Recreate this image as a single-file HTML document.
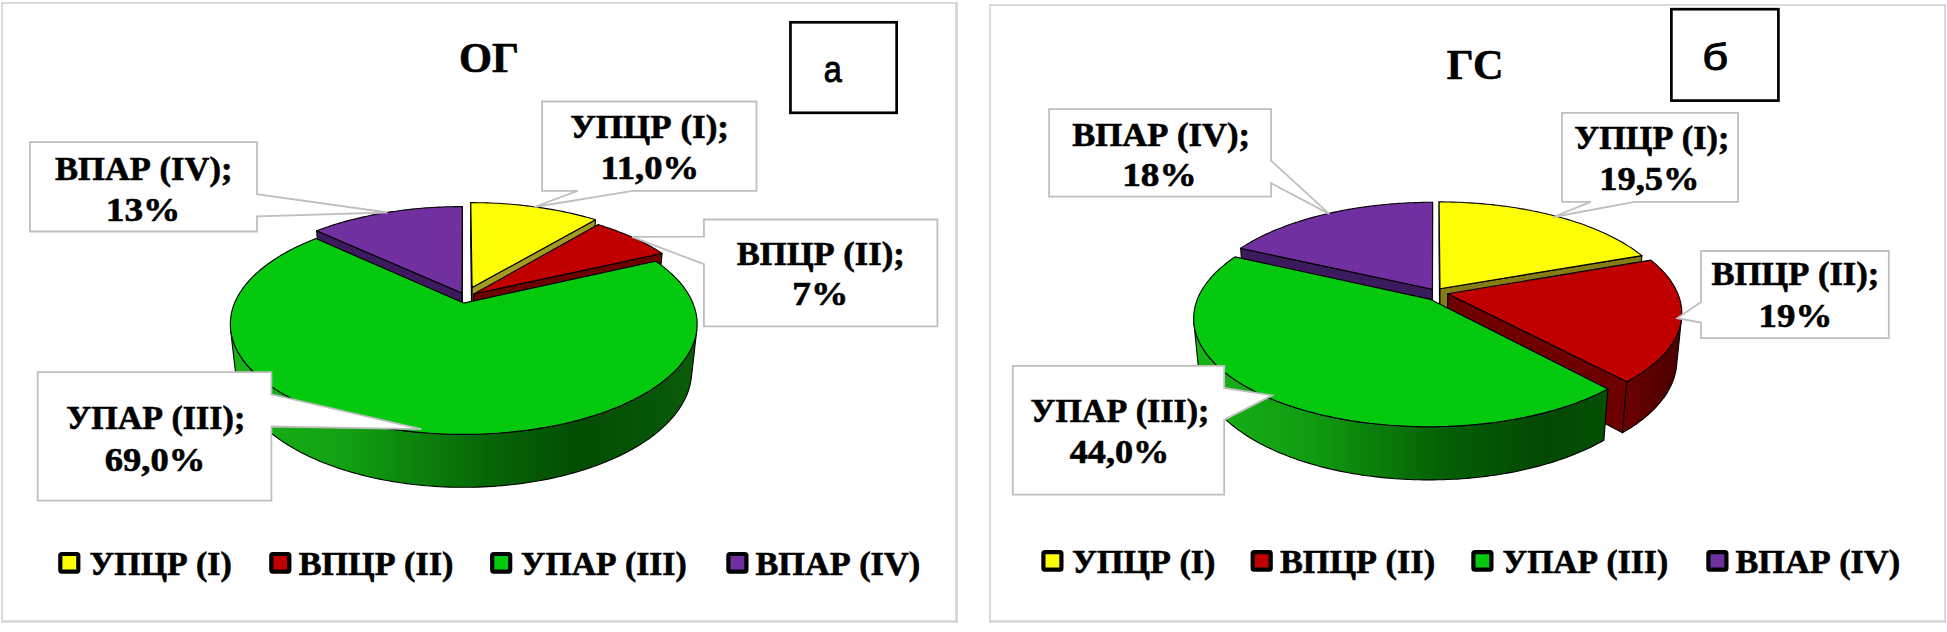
<!DOCTYPE html>
<html lang="ru"><head><meta charset="utf-8"><title>Charts</title>
<style>html,body{margin:0;padding:0;background:#fff;}svg{display:block;}text{fill:#000;}</style></head>
<body>
<svg width="1947" height="632" viewBox="0 0 1947 632">
<defs><linearGradient id="gL" gradientUnits="userSpaceOnUse" x1="230" y1="0" x2="697" y2="0"><stop offset="0" stop-color="#17b417"/><stop offset="0.25" stop-color="#12a012"/><stop offset="0.55" stop-color="#066606"/><stop offset="0.75" stop-color="#034d03"/><stop offset="1" stop-color="#0a5c0a"/></linearGradient><linearGradient id="gR" gradientUnits="userSpaceOnUse" x1="1192" y1="0" x2="1606" y2="0"><stop offset="0" stop-color="#17b417"/><stop offset="0.3" stop-color="#109a10"/><stop offset="0.6" stop-color="#056005"/><stop offset="0.85" stop-color="#034903"/><stop offset="1" stop-color="#045004"/></linearGradient><linearGradient id="rR" gradientUnits="userSpaceOnUse" x1="1625" y1="0" x2="1682" y2="0"><stop offset="0" stop-color="#6a0000"/><stop offset="1" stop-color="#4a0000"/></linearGradient></defs>
<g fill="#d5d5d5"><rect x="1.3" y="2.2" width="956.6" height="1.7"/><rect x="1.3" y="620.2" width="956.6" height="2.5"/><rect x="1.3" y="2.2" width="1.7" height="620.5"/><rect x="955.2" y="2.2" width="2.7" height="620.5"/></g>
<g fill="#d5d5d5"><rect x="989.1" y="4.1" width="956.8" height="1.7"/><rect x="989.1" y="620.3" width="956.8" height="2.4"/><rect x="989.1" y="4.1" width="1.8" height="618.6"/><rect x="1944.1" y="4.1" width="1.8" height="618.6"/></g>
<path d="M462.0,293.1 L316.7,230.8 L319.5,272.4 L462.1,338.6Z" fill="#3b1a5e" stroke="#000" stroke-width="1.1" stroke-linejoin="round"/>
<path d="M462.3,206.6 L462.0,293.1 L462.1,338.6 L462.4,246.6Z" fill="#3b1a5e" stroke="#000" stroke-width="1.1" stroke-linejoin="round"/>
<path d="M462.0,293.1 L316.7,230.8 L319.4,229.8 L322.2,228.7 L325.0,227.7 L327.9,226.8 L330.7,225.8 L333.6,224.9 L336.5,224.0 L339.5,223.1 L342.4,222.3 L345.4,221.4 L348.4,220.6 L351.4,219.8 L354.5,219.1 L357.6,218.3 L360.6,217.6 L363.7,216.9 L366.9,216.2 L370.0,215.6 L373.2,214.9 L376.3,214.3 L379.5,213.7 L382.7,213.2 L385.9,212.6 L389.2,212.1 L392.4,211.6 L395.7,211.2 L398.9,210.7 L402.2,210.3 L405.5,209.9 L408.8,209.5 L412.1,209.1 L415.4,208.8 L418.7,208.5 L422.0,208.2 L425.4,207.9 L428.7,207.7 L432.1,207.5 L435.4,207.3 L438.8,207.1 L442.1,207.0 L445.5,206.8 L448.9,206.7 L452.2,206.7 L455.6,206.6 L459.0,206.6 L462.3,206.6Z" fill="#7030a0" stroke="#000" stroke-width="1.1" stroke-linejoin="round"/>
<path d="M472.1,287.6 L470.8,202.6 L470.7,242.4 L471.9,332.7Z" fill="#a39a22" stroke="#000" stroke-width="1.1" stroke-linejoin="round"/>
<path d="M595.5,219.7 L472.1,287.6 L471.9,332.7 L593.0,260.6Z" fill="#a39a22" stroke="#000" stroke-width="1.1" stroke-linejoin="round"/>
<path d="M472.1,287.6 L470.8,202.6 L474.1,202.6 L477.5,202.7 L480.8,202.7 L484.1,202.8 L487.5,202.9 L490.8,203.0 L494.1,203.2 L497.4,203.3 L500.8,203.5 L504.1,203.7 L507.4,204.0 L510.7,204.2 L514.0,204.5 L517.3,204.8 L520.6,205.1 L523.8,205.5 L527.1,205.9 L530.3,206.3 L533.6,206.7 L536.8,207.1 L540.1,207.6 L543.3,208.1 L546.5,208.6 L549.6,209.1 L552.8,209.6 L556.0,210.2 L559.1,210.8 L562.3,211.4 L565.4,212.1 L568.5,212.7 L571.5,213.4 L574.6,214.1 L577.6,214.9 L580.7,215.6 L583.7,216.4 L586.7,217.2 L589.6,218.0 L592.5,218.8 L595.5,219.7Z" fill="#fdfd05" stroke="#000" stroke-width="1.1" stroke-linejoin="round"/>
<path d="M662.1,253.4 L473.7,294.0 L473.5,339.6 L658.0,296.5Z" fill="#6e0000" stroke="#000" stroke-width="1.1" stroke-linejoin="round"/>
<path d="M473.7,294.0 L598.2,224.6 L601.1,225.5 L604.0,226.4 L606.9,227.4 L609.7,228.3 L612.5,229.3 L615.3,230.3 L618.0,231.4 L620.8,232.4 L623.5,233.5 L626.1,234.6 L628.8,235.7 L631.4,236.8 L633.9,238.0 L636.5,239.1 L639.0,240.3 L641.5,241.5 L643.9,242.8 L646.3,244.0 L648.7,245.3 L651.0,246.6 L653.3,247.9 L655.6,249.3 L657.8,250.6 L659.9,252.0 L662.1,253.4Z" fill="#c00000" stroke="#000" stroke-width="1.1" stroke-linejoin="round"/>
<path d="M696.8,329.8 L696.5,331.8 L696.2,333.8 L695.8,335.8 L695.3,337.8 L694.7,339.8 L694.0,341.8 L693.3,343.8 L692.5,345.8 L691.6,347.8 L690.6,349.8 L689.6,351.8 L688.4,353.8 L687.2,355.8 L685.9,357.7 L684.5,359.7 L683.1,361.7 L681.5,363.6 L679.9,365.6 L678.2,367.5 L676.4,369.5 L674.5,371.4 L672.5,373.3 L670.4,375.2 L668.3,377.1 L666.1,379.0 L663.8,380.8 L661.4,382.7 L658.9,384.5 L656.4,386.3 L653.7,388.1 L651.0,389.9 L648.2,391.6 L645.3,393.3 L642.4,395.0 L639.3,396.7 L636.2,398.3 L633.0,400.0 L629.7,401.6 L626.4,403.1 L623.0,404.7 L619.5,406.2 L615.9,407.7 L612.3,409.1 L608.6,410.5 L604.8,411.9 L601.0,413.3 L597.0,414.6 L593.1,415.9 L589.0,417.1 L584.9,418.3 L580.8,419.5 L576.6,420.6 L572.3,421.7 L568.0,422.7 L563.6,423.7 L559.2,424.7 L554.7,425.6 L550.2,426.5 L545.7,427.3 L541.1,428.1 L536.4,428.9 L531.7,429.6 L527.0,430.2 L522.3,430.8 L517.5,431.4 L512.7,431.9 L507.9,432.4 L503.0,432.8 L498.2,433.2 L493.3,433.5 L488.4,433.8 L483.5,434.0 L478.5,434.2 L473.6,434.3 L468.7,434.4 L463.7,434.4 L458.8,434.4 L453.9,434.3 L448.9,434.2 L444.0,434.0 L439.1,433.8 L434.2,433.5 L429.3,433.2 L424.4,432.8 L419.6,432.4 L414.7,431.9 L409.9,431.4 L405.2,430.9 L400.4,430.3 L395.7,429.6 L391.0,428.9 L386.4,428.2 L381.8,427.4 L377.2,426.5 L372.7,425.7 L368.3,424.7 L363.8,423.8 L359.5,422.8 L355.1,421.7 L350.9,420.6 L346.7,419.5 L342.5,418.3 L338.4,417.1 L334.4,415.9 L330.4,414.6 L326.5,413.3 L322.7,412.0 L318.9,410.6 L315.2,409.2 L311.5,407.7 L308.0,406.2 L304.5,404.7 L301.1,403.2 L297.7,401.6 L294.4,400.0 L291.2,398.4 L288.1,396.7 L285.1,395.1 L282.1,393.4 L279.2,391.6 L276.4,389.9 L273.7,388.1 L271.1,386.4 L268.5,384.5 L266.1,382.7 L263.7,380.9 L261.4,379.0 L259.1,377.2 L257.0,375.3 L254.9,373.4 L253.0,371.5 L251.1,369.5 L249.3,367.6 L247.6,365.7 L245.9,363.7 L244.4,361.7 L242.9,359.8 L241.5,357.8 L240.2,355.8 L239.0,353.8 L237.8,351.8 L236.8,349.8 L235.8,347.8 L234.9,345.8 L234.1,343.8 L233.4,341.9 L232.7,339.9 L232.2,337.9 L231.7,335.9 L231.2,333.9 L230.9,331.9 L230.6,329.9 L236.1,377.5 L236.3,379.6 L236.7,381.7 L237.1,383.8 L237.6,385.9 L238.2,388.0 L238.8,390.1 L239.6,392.2 L240.4,394.3 L241.3,396.4 L242.2,398.5 L243.3,400.6 L244.4,402.7 L245.6,404.8 L246.9,406.9 L248.3,409.0 L249.7,411.0 L251.3,413.1 L252.9,415.2 L254.6,417.2 L256.3,419.2 L258.2,421.3 L260.1,423.3 L262.2,425.3 L264.3,427.3 L266.4,429.2 L268.7,431.2 L271.1,433.1 L273.5,435.0 L276.0,436.9 L278.6,438.8 L281.2,440.6 L284.0,442.5 L286.8,444.3 L289.7,446.1 L292.7,447.8 L295.7,449.6 L298.8,451.3 L302.0,452.9 L305.3,454.6 L308.6,456.2 L312.0,457.8 L315.5,459.3 L319.1,460.9 L322.7,462.4 L326.4,463.8 L330.1,465.2 L333.9,466.6 L337.8,467.9 L341.7,469.2 L345.7,470.5 L349.8,471.7 L353.9,472.9 L358.1,474.0 L362.3,475.1 L366.5,476.2 L370.8,477.2 L375.2,478.2 L379.6,479.1 L384.0,480.0 L388.5,480.8 L393.0,481.6 L397.6,482.3 L402.1,483.0 L406.8,483.6 L411.4,484.2 L416.1,484.7 L420.8,485.2 L425.5,485.7 L430.2,486.0 L435.0,486.4 L439.8,486.7 L444.5,486.9 L449.3,487.1 L454.1,487.2 L458.9,487.3 L463.7,487.3 L468.5,487.3 L473.3,487.2 L478.1,487.1 L482.9,486.9 L487.7,486.6 L492.5,486.4 L497.2,486.0 L502.0,485.6 L506.7,485.2 L511.4,484.7 L516.1,484.2 L520.7,483.6 L525.3,483.0 L529.9,482.3 L534.5,481.5 L539.0,480.8 L543.5,479.9 L547.9,479.1 L552.3,478.1 L556.6,477.2 L560.9,476.2 L565.2,475.1 L569.4,474.0 L573.6,472.9 L577.7,471.7 L581.7,470.5 L585.7,469.2 L589.6,467.9 L593.5,466.6 L597.3,465.2 L601.1,463.8 L604.8,462.3 L608.4,460.8 L611.9,459.3 L615.4,457.7 L618.8,456.2 L622.2,454.5 L625.4,452.9 L628.6,451.2 L631.8,449.5 L634.8,447.8 L637.8,446.0 L640.7,444.2 L643.5,442.4 L646.2,440.6 L648.9,438.7 L651.5,436.9 L654.0,435.0 L656.4,433.1 L658.7,431.1 L661.0,429.2 L663.2,427.2 L665.3,425.2 L667.3,423.2 L669.2,421.2 L671.1,419.2 L672.9,417.1 L674.6,415.1 L676.2,413.0 L677.7,411.0 L679.2,408.9 L680.5,406.8 L681.8,404.7 L683.0,402.6 L684.2,400.5 L685.2,398.4 L686.2,396.3 L687.1,394.2 L687.9,392.1 L688.6,390.0 L689.2,387.9 L689.8,385.8 L690.3,383.7 L690.7,381.6 L691.1,379.5 L691.4,377.4Z" fill="url(#gL)" stroke="#000" stroke-width="1.1" stroke-linejoin="round"/>
<path d="M463.7,303.1 L655.6,261.2 L657.7,262.6 L659.8,264.1 L661.8,265.6 L663.7,267.1 L665.6,268.6 L667.5,270.2 L669.3,271.8 L671.1,273.3 L672.8,275.0 L674.5,276.6 L676.1,278.2 L677.6,279.9 L679.2,281.5 L680.6,283.2 L682.0,284.9 L683.4,286.7 L684.6,288.4 L685.9,290.2 L687.0,291.9 L688.1,293.7 L689.2,295.5 L690.2,297.3 L691.1,299.1 L692.0,301.0 L692.8,302.8 L693.5,304.7 L694.2,306.6 L694.8,308.5 L695.3,310.4 L695.8,312.3 L696.2,314.2 L696.5,316.1 L696.8,318.1 L697.0,320.0 L697.1,322.0 L697.1,323.9 L697.1,325.9 L697.0,327.9 L696.8,329.8 L696.5,331.8 L696.2,333.8 L695.8,335.8 L695.3,337.8 L694.7,339.8 L694.0,341.8 L693.3,343.8 L692.5,345.8 L691.6,347.8 L690.6,349.8 L689.6,351.8 L688.4,353.8 L687.2,355.8 L685.9,357.7 L684.5,359.7 L683.1,361.7 L681.5,363.6 L679.9,365.6 L678.2,367.5 L676.4,369.5 L674.5,371.4 L672.5,373.3 L670.4,375.2 L668.3,377.1 L666.1,379.0 L663.8,380.8 L661.4,382.7 L658.9,384.5 L656.4,386.3 L653.7,388.1 L651.0,389.9 L648.2,391.6 L645.3,393.3 L642.4,395.0 L639.3,396.7 L636.2,398.3 L633.0,400.0 L629.7,401.6 L626.4,403.1 L623.0,404.7 L619.5,406.2 L615.9,407.7 L612.3,409.1 L608.6,410.5 L604.8,411.9 L601.0,413.3 L597.0,414.6 L593.1,415.9 L589.0,417.1 L584.9,418.3 L580.8,419.5 L576.6,420.6 L572.3,421.7 L568.0,422.7 L563.6,423.7 L559.2,424.7 L554.7,425.6 L550.2,426.5 L545.7,427.3 L541.1,428.1 L536.4,428.9 L531.7,429.6 L527.0,430.2 L522.3,430.8 L517.5,431.4 L512.7,431.9 L507.9,432.4 L503.0,432.8 L498.2,433.2 L493.3,433.5 L488.4,433.8 L483.5,434.0 L478.5,434.2 L473.6,434.3 L468.7,434.4 L463.7,434.4 L458.8,434.4 L453.9,434.3 L448.9,434.2 L444.0,434.0 L439.1,433.8 L434.2,433.5 L429.3,433.2 L424.4,432.8 L419.6,432.4 L414.7,431.9 L409.9,431.4 L405.2,430.9 L400.4,430.3 L395.7,429.6 L391.0,428.9 L386.4,428.2 L381.8,427.4 L377.2,426.5 L372.7,425.7 L368.3,424.7 L363.8,423.8 L359.5,422.8 L355.1,421.7 L350.9,420.6 L346.7,419.5 L342.5,418.3 L338.4,417.1 L334.4,415.9 L330.4,414.6 L326.5,413.3 L322.7,412.0 L318.9,410.6 L315.2,409.2 L311.5,407.7 L308.0,406.2 L304.5,404.7 L301.1,403.2 L297.7,401.6 L294.4,400.0 L291.2,398.4 L288.1,396.7 L285.1,395.1 L282.1,393.4 L279.2,391.6 L276.4,389.9 L273.7,388.1 L271.1,386.4 L268.5,384.5 L266.1,382.7 L263.7,380.9 L261.4,379.0 L259.1,377.2 L257.0,375.3 L254.9,373.4 L253.0,371.5 L251.1,369.5 L249.3,367.6 L247.6,365.7 L245.9,363.7 L244.4,361.7 L242.9,359.8 L241.5,357.8 L240.2,355.8 L239.0,353.8 L237.8,351.8 L236.8,349.8 L235.8,347.8 L234.9,345.8 L234.1,343.8 L233.4,341.9 L232.7,339.9 L232.2,337.9 L231.7,335.9 L231.2,333.9 L230.9,331.9 L230.6,329.9 L230.5,327.9 L230.4,325.9 L230.3,324.0 L230.4,322.0 L230.5,320.1 L230.7,318.1 L230.9,316.2 L231.2,314.2 L231.6,312.3 L232.1,310.4 L232.6,308.5 L233.2,306.6 L233.9,304.8 L234.6,302.9 L235.4,301.0 L236.3,299.2 L237.2,297.4 L238.2,295.6 L239.3,293.8 L240.4,292.0 L241.6,290.2 L242.8,288.4 L244.1,286.7 L245.4,285.0 L246.8,283.3 L248.3,281.6 L249.8,279.9 L251.3,278.3 L253.0,276.6 L254.6,275.0 L256.3,273.4 L258.1,271.8 L259.9,270.2 L261.8,268.7 L263.7,267.2 L265.6,265.7 L267.6,264.2 L269.7,262.7 L271.8,261.2 L273.9,259.8 L276.1,258.4 L278.3,257.0 L280.5,255.6 L282.8,254.3 L285.2,252.9 L287.5,251.6 L289.9,250.3 L292.4,249.1 L294.9,247.8 L297.4,246.6 L299.9,245.4 L302.5,244.2 L305.1,243.1 L307.7,241.9 L310.4,240.8 L313.1,239.7 L315.8,238.6Z" fill="#05c90f" stroke="#000" stroke-width="1.1" stroke-linejoin="round"/>
<path d="M1432.4,289.2 L1240.6,248.3 L1244.1,292.0 L1432.4,335.2Z" fill="#3b1a5e" stroke="#000" stroke-width="1.1" stroke-linejoin="round"/>
<path d="M1432.6,202.3 L1432.4,289.2 L1432.4,335.2 L1432.6,243.1Z" fill="#3b1a5e" stroke="#000" stroke-width="1.1" stroke-linejoin="round"/>
<path d="M1432.4,289.2 L1240.6,248.3 L1242.7,246.9 L1244.9,245.6 L1247.1,244.2 L1249.4,242.9 L1251.7,241.6 L1254.0,240.3 L1256.4,239.0 L1258.8,237.7 L1261.2,236.5 L1263.7,235.3 L1266.2,234.1 L1268.8,232.9 L1271.4,231.8 L1274.0,230.6 L1276.7,229.5 L1279.4,228.5 L1282.1,227.4 L1284.9,226.3 L1287.6,225.3 L1290.5,224.3 L1293.3,223.3 L1296.2,222.4 L1299.1,221.4 L1302.0,220.5 L1304.9,219.6 L1307.9,218.7 L1310.9,217.9 L1313.9,217.1 L1317.0,216.3 L1320.0,215.5 L1323.1,214.7 L1326.2,214.0 L1329.4,213.3 L1332.5,212.6 L1335.7,211.9 L1338.8,211.2 L1342.0,210.6 L1345.3,210.0 L1348.5,209.4 L1351.7,208.9 L1355.0,208.3 L1358.3,207.8 L1361.6,207.3 L1364.9,206.9 L1368.2,206.4 L1371.5,206.0 L1374.8,205.6 L1378.2,205.2 L1381.5,204.9 L1384.9,204.5 L1388.3,204.2 L1391.7,203.9 L1395.1,203.7 L1398.4,203.4 L1401.8,203.2 L1405.3,203.0 L1408.7,202.8 L1412.1,202.7 L1415.5,202.6 L1418.9,202.5 L1422.3,202.4 L1425.8,202.3 L1429.2,202.3 L1432.6,202.3Z" fill="#7030a0" stroke="#000" stroke-width="1.1" stroke-linejoin="round"/>
<path d="M1440.0,288.7 L1439.1,201.9 L1439.0,242.7 L1439.8,334.7Z" fill="#857c14" stroke="#000" stroke-width="1.1" stroke-linejoin="round"/>
<path d="M1641.9,255.6 L1440.0,288.7 L1439.8,334.7 L1638.1,299.7Z" fill="#857c14" stroke="#000" stroke-width="1.1" stroke-linejoin="round"/>
<path d="M1440.0,288.7 L1439.1,201.9 L1442.5,201.9 L1446.0,202.0 L1449.4,202.0 L1452.9,202.1 L1456.3,202.2 L1459.7,202.3 L1463.1,202.5 L1466.6,202.7 L1470.0,202.9 L1473.4,203.1 L1476.8,203.3 L1480.2,203.6 L1483.6,203.9 L1487.0,204.2 L1490.4,204.5 L1493.8,204.9 L1497.1,205.3 L1500.5,205.7 L1503.8,206.1 L1507.1,206.5 L1510.5,207.0 L1513.8,207.5 L1517.1,208.0 L1520.3,208.6 L1523.6,209.1 L1526.8,209.7 L1530.1,210.3 L1533.3,211.0 L1536.5,211.6 L1539.7,212.3 L1542.8,213.0 L1546.0,213.7 L1549.1,214.5 L1552.2,215.2 L1555.3,216.0 L1558.3,216.8 L1561.4,217.7 L1564.4,218.5 L1567.4,219.4 L1570.3,220.3 L1573.3,221.2 L1576.2,222.2 L1579.0,223.1 L1581.9,224.1 L1584.7,225.1 L1587.5,226.2 L1590.3,227.2 L1593.0,228.3 L1595.7,229.4 L1598.4,230.5 L1601.0,231.7 L1603.6,232.8 L1606.2,234.0 L1608.7,235.2 L1611.2,236.4 L1613.7,237.7 L1616.1,238.9 L1618.5,240.2 L1620.8,241.5 L1623.1,242.8 L1625.4,244.2 L1627.6,245.6 L1629.8,246.9 L1631.9,248.3 L1634.0,249.8 L1636.0,251.2 L1638.0,252.7 L1640.0,254.1 L1641.9,255.6Z" fill="#fdfd05" stroke="#000" stroke-width="1.1" stroke-linejoin="round"/>
<path d="M1626.8,381.8 L1447.7,293.7 L1447.5,340.0 L1622.5,432.8Z" fill="#6e0000" stroke="#000" stroke-width="1.1" stroke-linejoin="round"/>
<path d="M1681.6,317.7 L1681.4,319.6 L1681.2,321.5 L1680.8,323.4 L1680.4,325.4 L1679.8,327.3 L1679.2,329.2 L1678.6,331.1 L1677.8,333.0 L1677.0,335.0 L1676.1,336.9 L1675.1,338.8 L1674.0,340.7 L1672.8,342.6 L1671.6,344.5 L1670.3,346.4 L1668.9,348.3 L1667.4,350.2 L1665.9,352.0 L1664.2,353.9 L1662.5,355.7 L1660.7,357.6 L1658.8,359.4 L1656.8,361.2 L1654.7,363.1 L1652.6,364.8 L1650.4,366.6 L1648.1,368.4 L1645.7,370.1 L1643.2,371.9 L1640.7,373.6 L1638.1,375.3 L1635.4,376.9 L1632.6,378.6 L1629.7,380.2 L1626.8,381.8 L1622.5,432.8 L1625.3,431.1 L1628.2,429.4 L1630.9,427.7 L1633.5,425.9 L1636.1,424.2 L1638.6,422.4 L1641.0,420.5 L1643.4,418.7 L1645.6,416.9 L1647.8,415.0 L1649.9,413.1 L1652.0,411.2 L1653.9,409.3 L1655.8,407.4 L1657.5,405.4 L1659.2,403.5 L1660.9,401.5 L1662.4,399.5 L1663.9,397.6 L1665.3,395.6 L1666.6,393.6 L1667.8,391.6 L1668.9,389.6 L1670.0,387.5 L1671.0,385.5 L1671.9,383.5 L1672.7,381.5 L1673.5,379.5 L1674.2,377.5 L1674.7,375.4 L1675.3,373.4 L1675.7,371.4 L1676.1,369.4 L1676.4,367.4 L1676.6,365.3Z" fill="url(#rR)" stroke="#000" stroke-width="1.1" stroke-linejoin="round"/>
<path d="M1447.7,293.7 L1650.8,260.1 L1652.7,261.6 L1654.5,263.2 L1656.3,264.7 L1658.0,266.3 L1659.6,267.9 L1661.3,269.5 L1662.8,271.1 L1664.3,272.7 L1665.8,274.4 L1667.1,276.1 L1668.5,277.7 L1669.8,279.4 L1671.0,281.1 L1672.1,282.9 L1673.2,284.6 L1674.3,286.4 L1675.2,288.1 L1676.1,289.9 L1677.0,291.7 L1677.8,293.5 L1678.5,295.3 L1679.1,297.1 L1679.7,299.0 L1680.2,300.8 L1680.7,302.6 L1681.0,304.5 L1681.3,306.4 L1681.6,308.2 L1681.7,310.1 L1681.8,312.0 L1681.8,313.9 L1681.8,315.8 L1681.6,317.7 L1681.4,319.6 L1681.2,321.5 L1680.8,323.4 L1680.4,325.4 L1679.8,327.3 L1679.2,329.2 L1678.6,331.1 L1677.8,333.0 L1677.0,335.0 L1676.1,336.9 L1675.1,338.8 L1674.0,340.7 L1672.8,342.6 L1671.6,344.5 L1670.3,346.4 L1668.9,348.3 L1667.4,350.2 L1665.9,352.0 L1664.2,353.9 L1662.5,355.7 L1660.7,357.6 L1658.8,359.4 L1656.8,361.2 L1654.7,363.1 L1652.6,364.8 L1650.4,366.6 L1648.1,368.4 L1645.7,370.1 L1643.2,371.9 L1640.7,373.6 L1638.1,375.3 L1635.4,376.9 L1632.6,378.6 L1629.7,380.2 L1626.8,381.8Z" fill="#c00000" stroke="#000" stroke-width="1.1" stroke-linejoin="round"/>
<path d="M1607.9,388.9 L1604.8,390.5 L1601.6,392.1 L1598.3,393.7 L1595.0,395.2 L1591.6,396.7 L1588.1,398.2 L1584.6,399.7 L1581.0,401.1 L1577.3,402.5 L1573.5,403.9 L1569.7,405.2 L1565.9,406.5 L1561.9,407.8 L1557.9,409.0 L1553.8,410.2 L1549.7,411.4 L1545.5,412.5 L1541.3,413.6 L1537.0,414.6 L1532.7,415.6 L1528.3,416.6 L1523.8,417.5 L1519.3,418.4 L1514.8,419.2 L1510.2,420.0 L1505.6,420.8 L1501.0,421.5 L1496.3,422.2 L1491.6,422.8 L1486.8,423.4 L1482.1,423.9 L1477.3,424.4 L1472.4,424.8 L1467.6,425.2 L1462.7,425.6 L1457.8,425.9 L1452.9,426.1 L1448.0,426.4 L1443.1,426.5 L1438.2,426.6 L1433.3,426.7 L1428.3,426.7 L1423.4,426.7 L1418.5,426.6 L1413.5,426.5 L1408.6,426.3 L1403.7,426.1 L1398.8,425.8 L1394.0,425.5 L1389.1,425.2 L1384.3,424.8 L1379.4,424.3 L1374.7,423.8 L1369.9,423.3 L1365.2,422.7 L1360.5,422.1 L1355.8,421.4 L1351.2,420.7 L1346.6,419.9 L1342.0,419.1 L1337.5,418.3 L1333.0,417.4 L1328.6,416.4 L1324.2,415.5 L1319.9,414.5 L1315.7,413.4 L1311.4,412.3 L1307.3,411.2 L1303.2,410.0 L1299.1,408.8 L1295.2,407.6 L1291.3,406.3 L1287.4,405.0 L1283.6,403.7 L1279.9,402.3 L1276.2,400.9 L1272.7,399.5 L1269.2,398.0 L1265.7,396.5 L1262.3,395.0 L1259.1,393.4 L1255.8,391.9 L1252.7,390.3 L1249.6,388.6 L1246.7,387.0 L1243.7,385.3 L1240.9,383.6 L1238.2,381.9 L1235.5,380.2 L1232.9,378.4 L1230.4,376.7 L1228.0,374.9 L1225.7,373.1 L1223.4,371.2 L1221.2,369.4 L1219.1,367.5 L1217.1,365.7 L1215.2,363.8 L1213.4,361.9 L1211.6,360.0 L1209.9,358.1 L1208.3,356.2 L1206.8,354.3 L1205.4,352.3 L1204.1,350.4 L1202.8,348.4 L1201.6,346.5 L1200.6,344.5 L1199.5,342.6 L1198.6,340.6 L1197.8,338.7 L1197.0,336.7 L1196.3,334.7 L1195.7,332.8 L1195.2,330.8 L1194.7,328.9 L1194.4,326.9 L1194.1,325.0 L1193.9,323.0 L1198.8,370.9 L1199.0,373.0 L1199.3,375.0 L1199.7,377.1 L1200.2,379.2 L1200.7,381.2 L1201.3,383.3 L1202.0,385.4 L1202.7,387.4 L1203.6,389.5 L1204.5,391.6 L1205.5,393.6 L1206.6,395.7 L1207.8,397.7 L1209.0,399.8 L1210.3,401.8 L1211.7,403.9 L1213.2,405.9 L1214.8,407.9 L1216.4,409.9 L1218.2,411.9 L1220.0,413.9 L1221.9,415.9 L1223.9,417.8 L1225.9,419.8 L1228.1,421.7 L1230.3,423.6 L1232.6,425.5 L1235.0,427.4 L1237.4,429.3 L1240.0,431.1 L1242.6,432.9 L1245.3,434.7 L1248.0,436.5 L1250.9,438.3 L1253.8,440.0 L1256.8,441.7 L1259.9,443.4 L1263.1,445.0 L1266.3,446.7 L1269.6,448.3 L1272.9,449.8 L1276.4,451.4 L1279.9,452.9 L1283.5,454.3 L1287.1,455.8 L1290.8,457.2 L1294.6,458.5 L1298.4,459.9 L1302.3,461.2 L1306.2,462.4 L1310.2,463.6 L1314.3,464.8 L1318.4,466.0 L1322.6,467.1 L1326.8,468.1 L1331.1,469.2 L1335.4,470.1 L1339.8,471.1 L1344.2,471.9 L1348.6,472.8 L1353.1,473.6 L1357.6,474.3 L1362.2,475.1 L1366.8,475.7 L1371.4,476.3 L1376.1,476.9 L1380.7,477.4 L1385.4,477.9 L1390.2,478.3 L1394.9,478.7 L1399.7,479.0 L1404.4,479.3 L1409.2,479.5 L1414.0,479.7 L1418.8,479.8 L1423.6,479.9 L1428.5,479.9 L1433.3,479.9 L1438.1,479.8 L1442.9,479.7 L1447.7,479.5 L1452.5,479.3 L1457.3,479.1 L1462.0,478.7 L1466.8,478.4 L1471.5,477.9 L1476.2,477.5 L1480.9,477.0 L1485.6,476.4 L1490.2,475.8 L1494.8,475.2 L1499.4,474.5 L1503.9,473.7 L1508.4,472.9 L1512.9,472.1 L1517.3,471.2 L1521.7,470.3 L1526.0,469.3 L1530.3,468.3 L1534.6,467.2 L1538.8,466.1 L1542.9,465.0 L1547.0,463.8 L1551.0,462.6 L1555.0,461.4 L1558.9,460.1 L1562.8,458.7 L1566.6,457.4 L1570.3,456.0 L1574.0,454.5 L1577.6,453.1 L1581.1,451.6 L1584.6,450.0 L1588.0,448.5 L1591.3,446.9 L1594.6,445.3 L1597.8,443.6 L1600.9,441.9 L1603.9,440.2Z" fill="url(#gR)" stroke="#000" stroke-width="1.1" stroke-linejoin="round"/>
<path d="M1429.6,299.1 L1607.9,388.9 L1604.8,390.5 L1601.6,392.1 L1598.3,393.7 L1595.0,395.2 L1591.6,396.7 L1588.1,398.2 L1584.6,399.7 L1581.0,401.1 L1577.3,402.5 L1573.5,403.9 L1569.7,405.2 L1565.9,406.5 L1561.9,407.8 L1557.9,409.0 L1553.8,410.2 L1549.7,411.4 L1545.5,412.5 L1541.3,413.6 L1537.0,414.6 L1532.7,415.6 L1528.3,416.6 L1523.8,417.5 L1519.3,418.4 L1514.8,419.2 L1510.2,420.0 L1505.6,420.8 L1501.0,421.5 L1496.3,422.2 L1491.6,422.8 L1486.8,423.4 L1482.1,423.9 L1477.3,424.4 L1472.4,424.8 L1467.6,425.2 L1462.7,425.6 L1457.8,425.9 L1452.9,426.1 L1448.0,426.4 L1443.1,426.5 L1438.2,426.6 L1433.3,426.7 L1428.3,426.7 L1423.4,426.7 L1418.5,426.6 L1413.5,426.5 L1408.6,426.3 L1403.7,426.1 L1398.8,425.8 L1394.0,425.5 L1389.1,425.2 L1384.3,424.8 L1379.4,424.3 L1374.7,423.8 L1369.9,423.3 L1365.2,422.7 L1360.5,422.1 L1355.8,421.4 L1351.2,420.7 L1346.6,419.9 L1342.0,419.1 L1337.5,418.3 L1333.0,417.4 L1328.6,416.4 L1324.2,415.5 L1319.9,414.5 L1315.7,413.4 L1311.4,412.3 L1307.3,411.2 L1303.2,410.0 L1299.1,408.8 L1295.2,407.6 L1291.3,406.3 L1287.4,405.0 L1283.6,403.7 L1279.9,402.3 L1276.2,400.9 L1272.7,399.5 L1269.2,398.0 L1265.7,396.5 L1262.3,395.0 L1259.1,393.4 L1255.8,391.9 L1252.7,390.3 L1249.6,388.6 L1246.7,387.0 L1243.7,385.3 L1240.9,383.6 L1238.2,381.9 L1235.5,380.2 L1232.9,378.4 L1230.4,376.7 L1228.0,374.9 L1225.7,373.1 L1223.4,371.2 L1221.2,369.4 L1219.1,367.5 L1217.1,365.7 L1215.2,363.8 L1213.4,361.9 L1211.6,360.0 L1209.9,358.1 L1208.3,356.2 L1206.8,354.3 L1205.4,352.3 L1204.1,350.4 L1202.8,348.4 L1201.6,346.5 L1200.6,344.5 L1199.5,342.6 L1198.6,340.6 L1197.8,338.7 L1197.0,336.7 L1196.3,334.7 L1195.7,332.8 L1195.2,330.8 L1194.7,328.9 L1194.4,326.9 L1194.1,325.0 L1193.9,323.0 L1193.7,321.1 L1193.7,319.1 L1193.7,317.2 L1193.7,315.3 L1193.9,313.3 L1194.1,311.4 L1194.4,309.5 L1194.8,307.6 L1195.3,305.7 L1195.8,303.9 L1196.4,302.0 L1197.0,300.1 L1197.7,298.3 L1198.5,296.5 L1199.4,294.6 L1200.3,292.8 L1201.3,291.0 L1202.3,289.2 L1203.4,287.5 L1204.6,285.7 L1205.8,284.0 L1207.1,282.3 L1208.5,280.5 L1209.9,278.8 L1211.3,277.2 L1212.8,275.5 L1214.4,273.9 L1216.0,272.2 L1217.7,270.6 L1219.5,269.0 L1221.2,267.4 L1223.1,265.9 L1225.0,264.3 L1226.9,262.8 L1228.9,261.3 L1230.9,259.8 L1233.0,258.3 L1235.1,256.9Z" fill="#05c90f" stroke="#000" stroke-width="1.1" stroke-linejoin="round"/>
<path d="M542.1,101.5 L756.5,101.5 L756.5,190.8 L632.9,190.8 L534.3,207.0 L577.5,190.8 L542.1,190.8Z" fill="#fff" stroke="#bfbfbf" stroke-width="1.8" stroke-linejoin="miter"/>
<path d="M703.9,219.5 L937.4,219.5 L937.4,326.3 L703.9,326.3 L703.9,264.2 L632.0,236.8 L703.9,236.6Z" fill="#fff" stroke="#bfbfbf" stroke-width="1.8" stroke-linejoin="miter"/>
<path d="M37.7,372.2 L271.4,372.2 L271.4,394.3 L421.2,429.1 L271.4,426.5 L271.4,500.6 L37.7,500.6Z" fill="#fff" stroke="#bfbfbf" stroke-width="1.8" stroke-linejoin="miter"/>
<path d="M29.9,142.2 L257.0,142.2 L257.0,194.2 L387.5,212.5 L257.0,216.4 L257.0,231.5 L29.9,231.5Z" fill="#fff" stroke="#bfbfbf" stroke-width="1.8" stroke-linejoin="miter"/>
<path d="M1562.0,112.8 L1738.1,112.8 L1738.1,201.9 L1634.7,201.9 L1553.2,217.0 L1590.8,201.9 L1562.0,201.9Z" fill="#fff" stroke="#bfbfbf" stroke-width="1.8" stroke-linejoin="miter"/>
<path d="M1701.0,251.0 L1888.8,251.0 L1888.8,338.1 L1701.0,338.1 L1701.0,322.6 L1677.3,318.2 L1701.0,302.0Z" fill="#fff" stroke="#bfbfbf" stroke-width="1.8" stroke-linejoin="miter"/>
<path d="M1012.8,365.9 L1224.2,365.9 L1224.2,388.0 L1272.1,395.4 L1224.2,419.9 L1224.2,494.7 L1012.8,494.7Z" fill="#fff" stroke="#bfbfbf" stroke-width="1.8" stroke-linejoin="miter"/>
<path d="M1049.1,109.1 L1271.1,109.1 L1271.1,160.6 L1329.2,213.9 L1271.1,183.2 L1271.1,196.7 L1049.1,196.7Z" fill="#fff" stroke="#bfbfbf" stroke-width="1.8" stroke-linejoin="miter"/>
<rect x="790.45" y="22.3" width="106.2" height="90.5" fill="#fff" stroke="#000" stroke-width="2.7"/>
<rect x="1671.4" y="9.2" width="107" height="91.4" fill="#fff" stroke="#000" stroke-width="2.7"/>
<rect x="60.3" y="554.0" width="18" height="17.6" rx="1.5" fill="#fdfd05" stroke="#000" stroke-width="4.2"/>
<rect x="271.3" y="554.0" width="18" height="17.6" rx="1.5" fill="#c00000" stroke="#000" stroke-width="4.2"/>
<rect x="492.2" y="554.0" width="18" height="17.6" rx="1.5" fill="#05c90f" stroke="#000" stroke-width="4.2"/>
<rect x="728.4" y="554.0" width="18" height="17.6" rx="1.5" fill="#7030a0" stroke="#000" stroke-width="4.2"/>
<rect x="1043.4" y="552.1" width="18" height="17.6" rx="1.5" fill="#fdfd05" stroke="#000" stroke-width="4.2"/>
<rect x="1252.7" y="552.1" width="18" height="17.6" rx="1.5" fill="#c00000" stroke="#000" stroke-width="4.2"/>
<rect x="1473.4" y="552.1" width="18" height="17.6" rx="1.5" fill="#05c90f" stroke="#000" stroke-width="4.2"/>
<rect x="1708.4" y="552.1" width="18" height="17.6" rx="1.5" fill="#7030a0" stroke="#000" stroke-width="4.2"/>
<text x="459.1" y="71.9" font-family='"Liberation Serif", serif' font-weight="bold" font-size="42.2" stroke="#000" stroke-width="0.6" textLength="60.0" lengthAdjust="spacingAndGlyphs">ОГ</text>
<text x="1446.7" y="78.9" font-family='"Liberation Serif", serif' font-weight="bold" font-size="42.2" stroke="#000" stroke-width="0.6" textLength="56.8" lengthAdjust="spacingAndGlyphs">ГС</text>
<text x="570.2" y="137.5" font-family='"Liberation Serif", serif' font-weight="bold" font-size="33.5" stroke="#000" stroke-width="0.6" textLength="158.8" lengthAdjust="spacingAndGlyphs">УПЦР (I);</text>
<text x="600.5" y="178.8" font-family='"Liberation Serif", serif' font-weight="bold" font-size="33.5" stroke="#000" stroke-width="0.6" textLength="98.6" lengthAdjust="spacingAndGlyphs">11,0%</text>
<text x="736.8" y="264.5" font-family='"Liberation Serif", serif' font-weight="bold" font-size="33.5" stroke="#000" stroke-width="0.6" textLength="168.0" lengthAdjust="spacingAndGlyphs">ВПЦР (II);</text>
<text x="792.3" y="305.3" font-family='"Liberation Serif", serif' font-weight="bold" font-size="33.5" stroke="#000" stroke-width="0.6" textLength="56.0" lengthAdjust="spacingAndGlyphs">7%</text>
<text x="66.2" y="429.3" font-family='"Liberation Serif", serif' font-weight="bold" font-size="33.5" stroke="#000" stroke-width="0.6" textLength="179.1" lengthAdjust="spacingAndGlyphs">УПАР (III);</text>
<text x="104.8" y="470.5" font-family='"Liberation Serif", serif' font-weight="bold" font-size="33.5" stroke="#000" stroke-width="0.6" textLength="100.5" lengthAdjust="spacingAndGlyphs">69,0%</text>
<text x="55.0" y="179.6" font-family='"Liberation Serif", serif' font-weight="bold" font-size="33.5" stroke="#000" stroke-width="0.6" textLength="177.5" lengthAdjust="spacingAndGlyphs">ВПАР (IV);</text>
<text x="105.8" y="220.6" font-family='"Liberation Serif", serif' font-weight="bold" font-size="33.5" stroke="#000" stroke-width="0.6" textLength="74.5" lengthAdjust="spacingAndGlyphs">13%</text>
<text x="1574.2" y="149.2" font-family='"Liberation Serif", serif' font-weight="bold" font-size="33.5" stroke="#000" stroke-width="0.6" textLength="155.1" lengthAdjust="spacingAndGlyphs">УПЦР (I);</text>
<text x="1599.3" y="189.7" font-family='"Liberation Serif", serif' font-weight="bold" font-size="33.5" stroke="#000" stroke-width="0.6" textLength="100.1" lengthAdjust="spacingAndGlyphs">19,5%</text>
<text x="1711.4" y="285.4" font-family='"Liberation Serif", serif' font-weight="bold" font-size="33.5" stroke="#000" stroke-width="0.6" textLength="167.9" lengthAdjust="spacingAndGlyphs">ВПЦР (II);</text>
<text x="1758.6" y="327.0" font-family='"Liberation Serif", serif' font-weight="bold" font-size="33.5" stroke="#000" stroke-width="0.6" textLength="73.6" lengthAdjust="spacingAndGlyphs">19%</text>
<text x="1030.5" y="421.6" font-family='"Liberation Serif", serif' font-weight="bold" font-size="33.5" stroke="#000" stroke-width="0.6" textLength="178.8" lengthAdjust="spacingAndGlyphs">УПАР (III);</text>
<text x="1069.7" y="462.8" font-family='"Liberation Serif", serif' font-weight="bold" font-size="33.5" stroke="#000" stroke-width="0.6" textLength="99.6" lengthAdjust="spacingAndGlyphs">44,0%</text>
<text x="1072.2" y="145.9" font-family='"Liberation Serif", serif' font-weight="bold" font-size="33.5" stroke="#000" stroke-width="0.6" textLength="177.8" lengthAdjust="spacingAndGlyphs">ВПАР (IV);</text>
<text x="1122.2" y="185.7" font-family='"Liberation Serif", serif' font-weight="bold" font-size="33.5" stroke="#000" stroke-width="0.6" textLength="74.4" lengthAdjust="spacingAndGlyphs">18%</text>
<text x="89.5" y="575.0" font-family='"Liberation Serif", serif' font-weight="bold" font-size="33.5" stroke="#000" stroke-width="0.6" textLength="142.3" lengthAdjust="spacingAndGlyphs">УПЦР (I)</text>
<text x="298.7" y="575.0" font-family='"Liberation Serif", serif' font-weight="bold" font-size="33.5" stroke="#000" stroke-width="0.6" textLength="154.8" lengthAdjust="spacingAndGlyphs">ВПЦР (II)</text>
<text x="520.8" y="575.0" font-family='"Liberation Serif", serif' font-weight="bold" font-size="33.5" stroke="#000" stroke-width="0.6" textLength="165.9" lengthAdjust="spacingAndGlyphs">УПАР (III)</text>
<text x="755.4" y="575.0" font-family='"Liberation Serif", serif' font-weight="bold" font-size="33.5" stroke="#000" stroke-width="0.6" textLength="164.7" lengthAdjust="spacingAndGlyphs">ВПАР (IV)</text>
<text x="1072.0" y="572.8" font-family='"Liberation Serif", serif' font-weight="bold" font-size="33.5" stroke="#000" stroke-width="0.6" textLength="143.4" lengthAdjust="spacingAndGlyphs">УПЦР (I)</text>
<text x="1279.9" y="572.8" font-family='"Liberation Serif", serif' font-weight="bold" font-size="33.5" stroke="#000" stroke-width="0.6" textLength="155.2" lengthAdjust="spacingAndGlyphs">ВПЦР (II)</text>
<text x="1502.5" y="572.8" font-family='"Liberation Serif", serif' font-weight="bold" font-size="33.5" stroke="#000" stroke-width="0.6" textLength="165.6" lengthAdjust="spacingAndGlyphs">УПАР (III)</text>
<text x="1735.4" y="572.8" font-family='"Liberation Serif", serif' font-weight="bold" font-size="33.5" stroke="#000" stroke-width="0.6" textLength="164.7" lengthAdjust="spacingAndGlyphs">ВПАР (IV)</text>
<text x="823.7" y="82.0" font-family='"Liberation Sans", sans-serif' font-weight="normal" font-size="37.5" stroke="#000" stroke-width="1.0" textLength="18.0" lengthAdjust="spacingAndGlyphs">а</text>
<text x="1702.2" y="69.8" font-family='"Liberation Sans", sans-serif' font-weight="normal" font-size="37.2" stroke="#000" stroke-width="1.0" textLength="25.9" lengthAdjust="spacingAndGlyphs">б</text>
</svg>
</body></html>
